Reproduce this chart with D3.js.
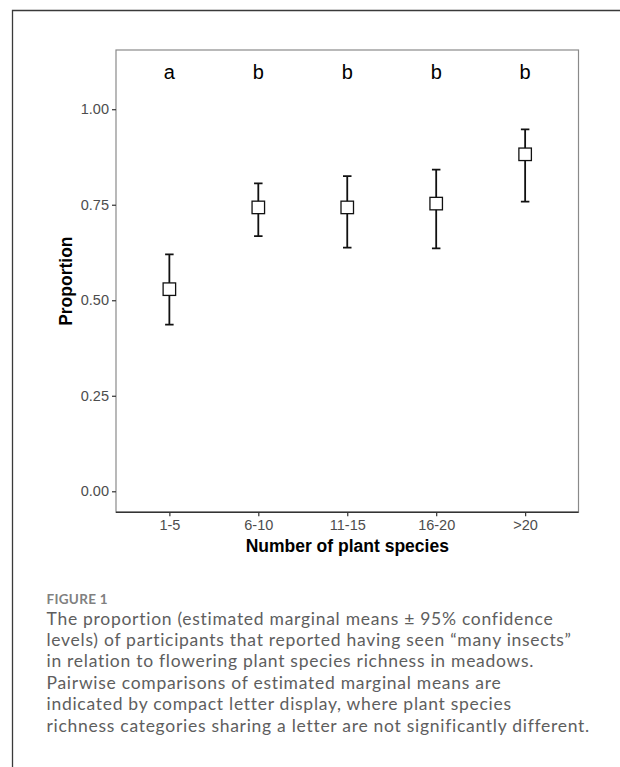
<!DOCTYPE html>
<html>
<head>
<meta charset="utf-8">
<script src="https://cdn.jsdelivr.net/npm/d3@7"></script>
<style>
  body { margin: 0; background: #fff; }
  .caption { font-family: "Lato", "Open Sans", sans-serif; }
</style>
</head>
<body>
<div class="visualization"></div>
<script>
// categories and estimates
const categories = ["1-5", "6-10", "11-15", "16-20", ">20"];
const means = [0.529, 0.743, 0.743, 0.753, 0.882];
const lowerCI = [0.436, 0.668, 0.638, 0.636, 0.758];
const upperCI = [0.620, 0.806, 0.825, 0.842, 0.947];
const letters = ["a", "b", "b", "b", "b"];
const yTicks = [0, 0.25, 0.5, 0.75, 1];
const letterLevel = 1.1;

const captionTitle = "FIGURE 1";
const captionLines = [
  "The proportion (estimated marginal means \u00b1 95% confidence",
  "levels) of participants that reported having seen \u201cmany insects\u201d",
  "in relation to flowering plant species richness in meadows.",
  "Pairwise comparisons of estimated marginal means are",
  "indicated by compact letter display, where plant species",
  "richness categories sharing a letter are not significantly different."
];

const chartFont = "Liberation Sans, Arial, sans-serif";

class IntervalPlot {
  constructor() {
    this.width = 620;
    this.height = 767;
    this.panel = { left: 116, right: 578.5, top: 50, bottom: 512.3 };
    this.svg = d3.select(".visualization")
      .append("svg")
      .attr("width", this.width)
      .attr("height", this.height);

    this.setupScales();
    this.drawFrame();
    this.drawAxes();
    this.drawIntervals();
    this.drawCaption();
  }

  setupScales() {
    // ggplot style expansion: discrete 0.6 units, continuous 5%
    this.x = d3.scalePoint()
      .domain(categories)
      .range([this.panel.left, this.panel.right])
      .padding(0.6);
    const span = letterLevel - 0;
    this.y = d3.scaleLinear()
      .domain([0 - span * 0.05, letterLevel + span * 0.05])
      .range([this.panel.bottom, this.panel.top]);
  }

  drawFrame() {
    // outer figure border (left + top only)
    this.svg.append("path")
      .attr("d", `M12.5,${this.height} V10.5 H${this.width}`)
      .attr("fill", "none")
      .attr("stroke", "#3a3a3a")
      .attr("stroke-width", 1.3);

    const p = this.panel;
    this.svg.append("rect")
      .attr("x", p.left)
      .attr("y", p.top)
      .attr("width", p.right - p.left)
      .attr("height", p.bottom - p.top)
      .attr("fill", "#fff")
      .attr("stroke", "#8a8a8a")
      .attr("stroke-width", 1.2);
  }

  styleAxis(g) {
    g.attr("font-family", chartFont).attr("font-size", 14.5);
    g.select(".domain").remove();
    g.selectAll(".tick line").attr("stroke", "#333").attr("stroke-width", 1.2);
    g.selectAll(".tick text").attr("fill", "#4d4d4d");
  }

  drawAxes() {
    const p = this.panel;

    const yAxis = d3.axisLeft(this.y)
      .tickValues(yTicks)
      .tickFormat(d3.format(".2f"))
      .tickSize(4)
      .tickPadding(3);
    this.svg.append("g")
      .attr("transform", `translate(${p.left},0)`)
      .call(yAxis)
      .call((g) => this.styleAxis(g));

    const xAxis = d3.axisBottom(this.x)
      .tickSize(4)
      .tickPadding(3);
    this.svg.append("g")
      .attr("transform", `translate(0,${p.bottom})`)
      .call(xAxis)
      .call((g) => this.styleAxis(g));

    // darker x axis line on top of the panel border
    this.svg.append("line")
      .attr("x1", p.left)
      .attr("x2", p.right)
      .attr("y1", p.bottom)
      .attr("y2", p.bottom)
      .attr("stroke", "#333")
      .attr("stroke-width", 1.5);

    this.svg.append("text")
      .attr("x", (p.left + p.right) / 2)
      .attr("y", 552)
      .attr("text-anchor", "middle")
      .attr("font-family", chartFont)
      .attr("font-weight", "bold")
      .attr("font-size", 17.5)
      .attr("fill", "#000")
      .text("Number of plant species");

    this.svg.append("text")
      .attr("transform", `translate(71.5,${(p.top + p.bottom) / 2}) rotate(-90)`)
      .attr("text-anchor", "middle")
      .attr("font-family", chartFont)
      .attr("font-weight", "bold")
      .attr("font-size", 17.5)
      .attr("fill", "#000")
      .text("Proportion");
  }

  drawIntervals() {
    const rows = categories.map((c, i) => ({
      cat: c, mean: means[i], lo: lowerCI[i], hi: upperCI[i], letter: letters[i]
    }));
    const capW = 8.5;
    const box = 12.5;

    const g = this.svg.append("g")
      .attr("stroke", "#111")
      .attr("stroke-width", 1.8)
      .attr("fill", "none");

    g.selectAll(".whisker")
      .data(rows)
      .enter()
      .append("path")
      .attr("class", "whisker")
      .attr("d", (d) => {
        const cx = this.x(d.cat);
        const top = this.y(d.hi);
        const bot = this.y(d.lo);
        return `M${cx - capW / 2},${top} H${cx + capW / 2} M${cx},${top} V${bot} M${cx - capW / 2},${bot} H${cx + capW / 2}`;
      });

    g.selectAll(".estimate")
      .data(rows)
      .enter()
      .append("rect")
      .attr("class", "estimate")
      .attr("x", (d) => this.x(d.cat) - box / 2)
      .attr("y", (d) => this.y(d.mean) - box / 2)
      .attr("width", box)
      .attr("height", box)
      .attr("fill", "#fff")
      .attr("stroke-width", 1.3);

    this.svg.selectAll(".cld")
      .data(rows)
      .enter()
      .append("text")
      .attr("class", "cld")
      .attr("x", (d) => this.x(d.cat))
      .attr("y", () => this.y(letterLevel) + 7.5)
      .attr("text-anchor", "middle")
      .attr("font-family", chartFont)
      .attr("font-size", 20)
      .attr("fill", "#000")
      .text((d) => d.letter);
  }

  drawCaption() {
    const left = 46.5;
    this.svg.append("text")
      .attr("class", "caption")
      .attr("x", left)
      .attr("y", 604)
      .attr("font-size", 13.5)
      .attr("font-weight", 700)
      .attr("letter-spacing", 0.3)
      .attr("fill", "#808080")
      .text(captionTitle);

    this.svg.append("g")
      .attr("class", "caption")
      .selectAll("text")
      .data(captionLines)
      .enter()
      .append("text")
      .attr("x", left)
      .attr("y", (d, i) => 624.5 + i * 21.4)
      .attr("font-size", 17.5)
      .attr("letter-spacing", 0.72)
      .attr("fill", "#5e5e5e")
      .text((d) => d);
  }
}

new IntervalPlot();
</script>
</body>
</html>
